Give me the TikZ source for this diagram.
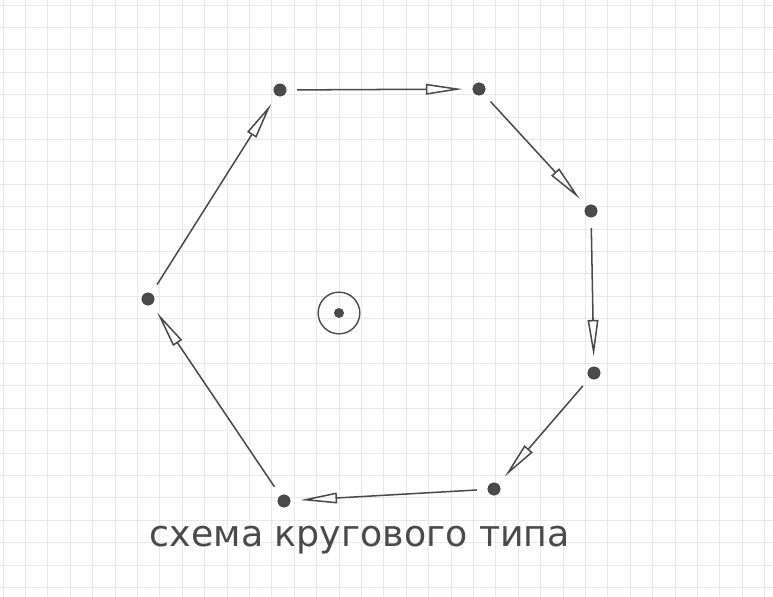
\documentclass[tikz,border=0pt]{standalone}
\usepackage{fontspec}
\setmainfont{DejaVu Sans}
\usetikzlibrary{arrows.meta}
\definecolor{pencil}{HTML}{4A4A4A}
\definecolor{gridline}{HTML}{E8E8E8}

\begin{document}
\begin{tikzpicture}[
  x=0.03cm, y=-0.03cm,
  dot/.style={circle, fill=pencil, draw=pencil!80!black, inner sep=0pt, minimum size=3.7mm},
  hubdot/.style={circle, fill=pencil, inner sep=0pt, minimum size=3mm},
  hubring/.style={circle, draw=pencil, line width=1.2pt, inner sep=0pt, minimum size=12.5mm},
  arr/.style={-{Triangle[open, length=11mm, width=3.2mm]}, line width=1.3pt, color=pencil, shorten <=3.2mm, shorten >=3mm},
  caption/.style={font=\fontsize{31}{36}\selectfont, text=pencil}
]
\useasboundingbox (0,0) rectangle (773,597);
\fill[white] (0,0) rectangle (773,597);
% squared paper
\foreach \gx in {3,25.4,...,773} \draw[gridline, line width=0.6pt] (\gx,0) -- (\gx,597);
\foreach \gy in {5,27.4,...,597} \draw[gridline, line width=0.6pt] (0,\gy) -- (773,\gy);
% ring of stations
\node[dot] (a) at (280,90) {};
\node[dot] (b) at (479,89) {};
\node[dot] (c) at (591,211) {};
\node[dot] (d) at (594,373) {};
\node[dot] (e) at (494,489) {};
\node[dot] (f) at (284,501) {};
\node[dot] (g) at (148,299) {};
% centre
\node[hubring] (hub) at (339,313) {};
\node[hubdot] (hubc) at (hub.center) {};
% links
\draw[arr] (a) -- (b);
\draw[arr] (b) -- (c);
\draw[arr] (c) -- (d);
\draw[arr] (d) -- (e);
\draw[arr] (e) -- (f);
\draw[arr] (f) -- (g);
\draw[arr] (g) -- (a);
\node[caption] (title) at (360,540) {схема кругового типа};
\end{tikzpicture}
\end{document}
